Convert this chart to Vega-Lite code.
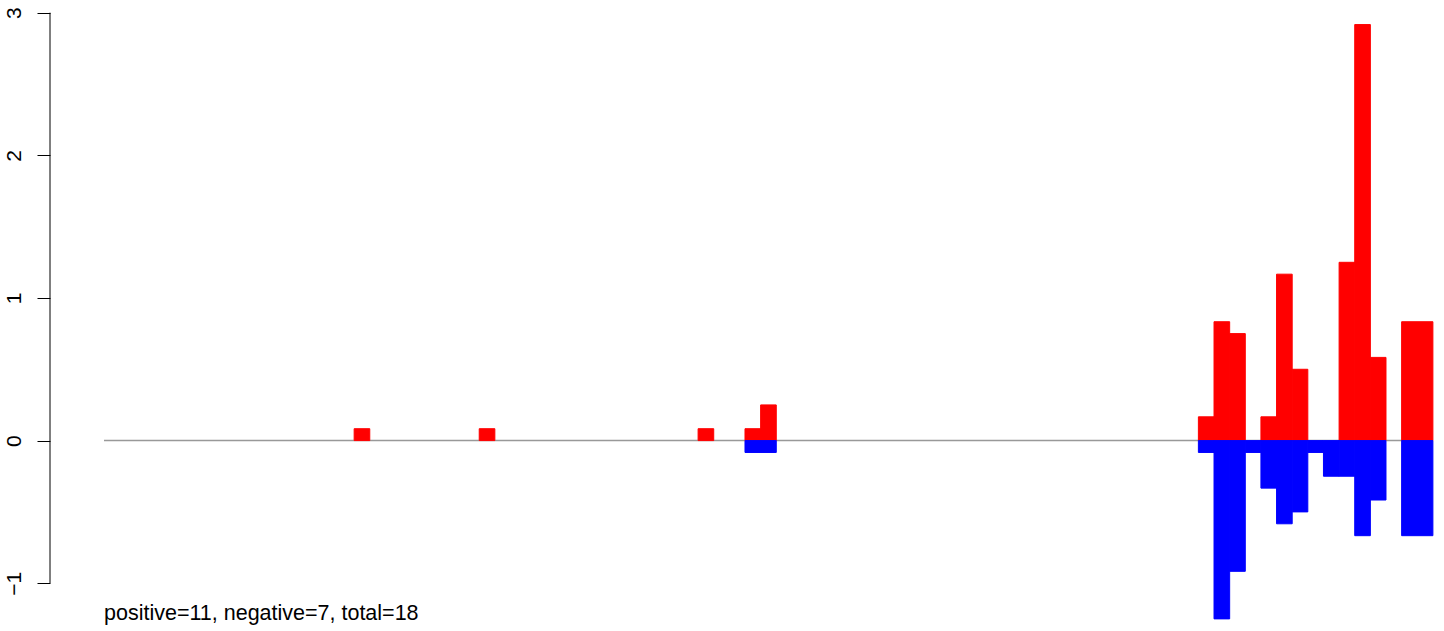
{
  "$schema": "https://vega.github.io/schema/vega-lite/v6.json",
  "autosize": "none",
  "padding": {"left": 50, "top": 0, "right": 0, "bottom": 0},
  "width": 1394,
  "height": 631,
  "background": "white",
  "config": {"view": {"stroke": null}},
  "datasets": {
    "bars": [
      {"start": 16, "end": 17, "value": 0.0833, "dir": "positive"},
      {"start": 24, "end": 25, "value": 0.0833, "dir": "positive"},
      {"start": 38, "end": 39, "value": 0.0833, "dir": "positive"},
      {"start": 41, "end": 42, "value": 0.0833, "dir": "positive"},
      {"start": 42, "end": 43, "value": 0.25, "dir": "positive"},
      {"start": 70, "end": 71, "value": 0.1667, "dir": "positive"},
      {"start": 71, "end": 72, "value": 0.8333, "dir": "positive"},
      {"start": 72, "end": 73, "value": 0.75, "dir": "positive"},
      {"start": 74, "end": 75, "value": 0.1667, "dir": "positive"},
      {"start": 75, "end": 76, "value": 1.1667, "dir": "positive"},
      {"start": 76, "end": 77, "value": 0.5, "dir": "positive"},
      {"start": 79, "end": 80, "value": 1.25, "dir": "positive"},
      {"start": 80, "end": 81, "value": 2.9167, "dir": "positive"},
      {"start": 81, "end": 82, "value": 0.5833, "dir": "positive"},
      {"start": 83, "end": 85, "value": 0.8333, "dir": "positive"},
      {"start": 41, "end": 43, "value": -0.0833, "dir": "negative"},
      {"start": 70, "end": 71, "value": -0.0833, "dir": "negative"},
      {"start": 71, "end": 72, "value": -1.25, "dir": "negative"},
      {"start": 72, "end": 73, "value": -0.9167, "dir": "negative"},
      {"start": 73, "end": 74, "value": -0.0833, "dir": "negative"},
      {"start": 74, "end": 75, "value": -0.3333, "dir": "negative"},
      {"start": 75, "end": 76, "value": -0.5833, "dir": "negative"},
      {"start": 76, "end": 77, "value": -0.5, "dir": "negative"},
      {"start": 77, "end": 78, "value": -0.0833, "dir": "negative"},
      {"start": 78, "end": 79, "value": -0.25, "dir": "negative"},
      {"start": 79, "end": 80, "value": -0.25, "dir": "negative"},
      {"start": 80, "end": 81, "value": -0.6667, "dir": "negative"},
      {"start": 81, "end": 82, "value": -0.4167, "dir": "negative"},
      {"start": 83, "end": 85, "value": -0.6667, "dir": "negative"}
    ],
    "note": [{"label": "positive=11, negative=7, total=18"}]
  },
  "resolve": {"scale": {"x": "shared", "y": "shared"}},
  "layer": [
    {
      "data": {"values": [{}]},
      "mark": {"type": "rule", "color": "#999999", "strokeWidth": 1.5},
      "encoding": {
        "x": {"datum": 0, "type": "quantitative", "scale": {"domain": [-3.454, 85.71], "nice": false, "zero": false}, "axis": null},
        "x2": {"datum": 85},
        "y": {"datum": 0, "type": "quantitative", "scale": {"domain": [-1.335, 3.089], "nice": false, "zero": false},
          "axis": {"values": [-1, 0, 1, 2, 3], "format": "d", "domain": false, "grid": false, "title": null, "tickSize": 13, "tickColor": "black", "tickWidth": 1,
            "labelAngle": 270, "labelAlign": "center", "labelBaseline": "alphabetic", "labelPadding": 17, "labelFontSize": 21,
            "labelFont": "Liberation Sans", "labelColor": "black", "labelFlush": false, "labelOverlap": false}}
      }
    },
    {
      "data": {"values": [{}]},
      "mark": {"type": "rule", "color": "black", "strokeWidth": 1},
      "encoding": {
        "x": {"datum": -3.454, "type": "quantitative"},
        "y": {"datum": -1, "type": "quantitative"},
        "y2": {"datum": 3}
      }
    },
    {
      "data": {"name": "bars"},
      "mark": {"type": "rect", "strokeWidth": 1},
      "encoding": {
        "x": {"field": "start", "type": "quantitative"},
        "x2": {"field": "end"},
        "y": {"field": "value", "type": "quantitative"},
        "y2": {"datum": 0},
        "color": {"field": "dir", "type": "nominal", "scale": {"domain": ["positive", "negative"], "range": ["#ff0000", "#0000ff"]}, "legend": null},
        "stroke": {"field": "dir", "type": "nominal", "scale": {"domain": ["positive", "negative"], "range": ["#ff0000", "#0000ff"]}, "legend": null}
      }
    },
    {
      "data": {"name": "note"},
      "mark": {"type": "text", "align": "left", "baseline": "alphabetic", "fontSize": 21.5, "font": "Liberation Sans", "color": "black"},
      "encoding": {
        "x": {"datum": 0, "type": "quantitative"},
        "y": {"datum": -1.258, "type": "quantitative"},
        "text": {"field": "label"}
      }
    }
  ]
}
